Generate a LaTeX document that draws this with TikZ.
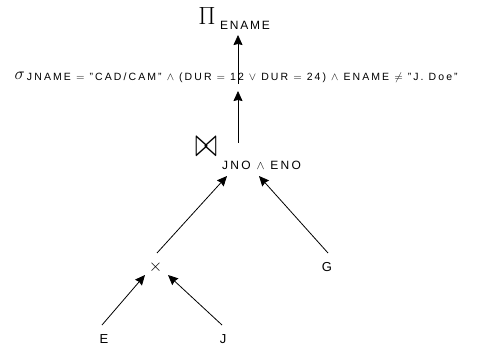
\documentclass[tikz,border=0pt]{standalone}
\usepackage{fontspec}
\usepackage{graphicx}
\setmainfont{Liberation Sans}
\usetikzlibrary{arrows.meta}
\tikzset{
  arr/.style={draw, line width=0.8pt, -{Stealth[length=10pt,width=9pt,inset=1pt]}},
  lbl/.style={inner sep=0pt, outer sep=0pt},
}
\begin{document}
\begin{tikzpicture}[x=1pt,y=-1pt]
\useasboundingbox (0,0) rectangle (498,350);
% projection
\node[lbl, anchor=base] (pisym) at (207,25) {\fontsize{25}{25}\selectfont$\Pi$};
\node[lbl, anchor=base west] (pisub) at (220,30) {\fontsize{12}{12}\selectfont\addfontfeature{LetterSpace=15}ENAME};
% selection
\node[lbl, anchor=base west] (sigsym) at (14.5,80) {\fontsize{16}{16}\selectfont$\sigma$};
\node[lbl, anchor=base west] (sel) at (27,81) {\fontsize{10.5}{10.5}\selectfont\addfontfeature{LetterSpace=20}JNAME $=$ "CAD/CAM" $\wedge$ (DUR $=$ 12 $\vee$ DUR $=$ 24) $\wedge$ ENAME $\neq$ "J. Doe"};
% join
\node[lbl] (joinsym) at (206,146.5) {\resizebox{22pt}{19pt}{$\bowtie$}};
\node[lbl, anchor=base west] (join) at (222,169.5) {\fontsize{12}{12}\selectfont\addfontfeature{LetterSpace=20}JNO $\wedge$ ENO};
% product
\node[lbl] (prod) at (155.5,267) {\fontsize{16}{16}\selectfont$\times$};
% leaves
\node[lbl, anchor=base] (G) at (327,271.5) {\fontsize{13}{13}\selectfont G};
\node[lbl, anchor=base] (E) at (104,343) {\fontsize{13}{13}\selectfont E};
\node[lbl, anchor=base] (J) at (223,343) {\fontsize{13}{13}\selectfont J};
% connector end points
\coordinate (selTop) at (238,84);
\coordinate (piIn) at (238,35);
\coordinate (joinTop) at (238,143);
\coordinate (selIn) at (238,91);
\coordinate (prodOut) at (157,253);
\coordinate (joinInL) at (227,176);
\coordinate (GOut) at (328,253);
\coordinate (joinInR) at (259,176);
\coordinate (EOut) at (102,325);
\coordinate (prodInL) at (145,275);
\coordinate (JOut) at (222,325);
\coordinate (prodInR) at (168,275);
% connectors
\draw[arr] (selTop) -- (piIn);
\draw[arr] (joinTop) -- (selIn);
\draw[arr] (prodOut) -- (joinInL);
\draw[arr] (GOut) -- (joinInR);
\draw[arr] (EOut) -- (prodInL);
\draw[arr] (JOut) -- (prodInR);
\end{tikzpicture}
\end{document}
